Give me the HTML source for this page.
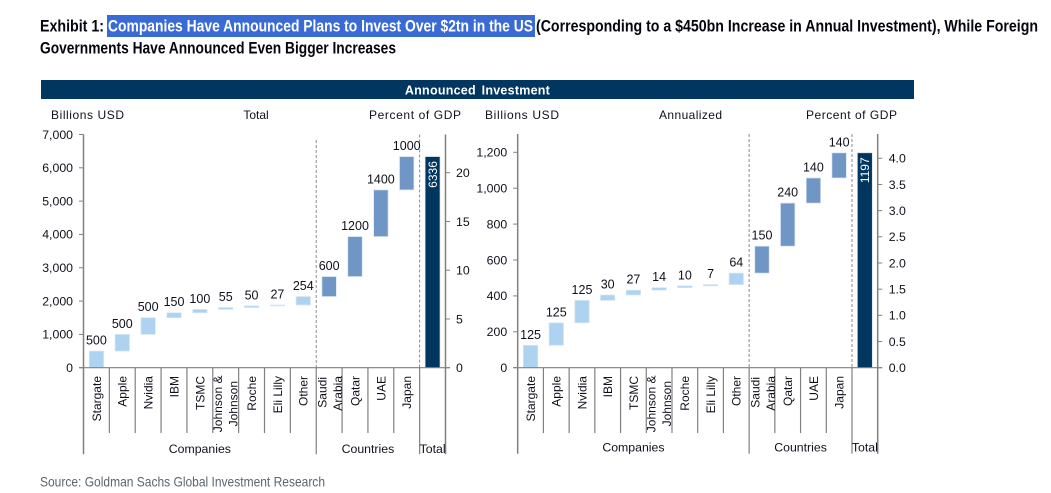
<!DOCTYPE html>
<html lang="en">
<head>
<meta charset="utf-8">
<title>Announced Investment</title>
<style>
html,body{margin:0;padding:0;background:#fff;width:1051px;height:493px;overflow:hidden}
svg{display:block;font-family:"Liberation Sans",Arial,sans-serif}
</style>
</head>
<body>
<svg id="root" xmlns="http://www.w3.org/2000/svg" width="1051" height="493" viewBox="0 0 1051 493">
  <g font-weight="700" font-size="17" fill="#05050f">
    <rect x="107" y="15" width="428" height="22" fill="#3A6BD4"/>
    <text x="40" y="31.5" textLength="64" lengthAdjust="spacingAndGlyphs">Exhibit 1:</text>
    <text x="108" y="31.5" fill="#ffffff" textLength="425" lengthAdjust="spacingAndGlyphs">Companies Have Announced Plans to Invest Over $2tn in the US</text>
    <text x="536" y="31.5" textLength="502" lengthAdjust="spacingAndGlyphs">(Corresponding to a $450bn Increase in Annual Investment), While Foreign</text>
    <text x="40" y="53.5" textLength="356" lengthAdjust="spacingAndGlyphs">Governments Have Announced Even Bigger Increases</text>
  </g>
  <g>
    <rect x="41" y="80" width="873" height="19" fill="#003660"/>
    <text x="477.5" y="94.5" text-anchor="middle" font-size="12.5" font-weight="700" fill="#ffffff" word-spacing="2" letter-spacing="0.25">Announced Investment</text>
  </g>
  <g font-size="12" fill="#10101c">
    <text x="51" y="119" textLength="73" lengthAdjust="spacing">Billions USD</text>
    <text x="256" y="119" text-anchor="middle">Total</text>
    <text x="369" y="119" textLength="92" lengthAdjust="spacing">Percent of GDP</text>
    <text x="485" y="119" textLength="74" lengthAdjust="spacing">Billions USD</text>
    <text x="659" y="119" textLength="63" lengthAdjust="spacing">Annualized</text>
    <text x="806" y="119" textLength="91" lengthAdjust="spacing">Percent of GDP</text>
  </g>
  <g id="left-chart"></g>
  <g id="right-chart"></g>
  <text x="40" y="486.5" font-size="14" fill="#5a6670" textLength="285" lengthAdjust="spacingAndGlyphs">Source: Goldman Sachs Global Investment Research</text>
</svg>
<script>
// ---- chart data ----
const categories = ["Stargate", "Apple", "Nvidia", "IBM", "TSMC", "Johnson &|Johnson", "Roche", "Eli Lilly", "Other", "Saudi|Arabia", "Qatar", "UAE", "Japan"];
const groupLabels = ["Companies", "Countries", "Total"];
const totalValues = [500, 500, 500, 150, 100, 55, 50, 27, 254, 600, 1200, 1400, 1000];
const totalSum = [6336];
const annualizedValues = [125, 125, 125, 30, 27, 14, 10, 7, 64, 150, 240, 140, 140];
const annualizedSum = [1197];
const totalTicks = [0, 1000, 2000, 3000, 4000, 5000, 6000, 7000];
const totalGdpTicks = [0, 5, 10, 15, 20];
const annualizedTicks = [0, 200, 400, 600, 800, 1000, 1200];
const annualizedGdpTicks = [0, 0.5, 1, 1.5, 2, 2.5, 3, 3.5, 4];

const NS = "http://www.w3.org/2000/svg";
const LIGHT = "#AED3F1", MID = "#7096C5", DARK = "#003660", AXIS = "#808080", INK = "#10101c";
const COMPANY_COUNT = 9;

function attrs(el, map) {
  for (const k in map) el.setAttribute(k, map[k]);
  return el;
}
function make(tag, parent, map, text) {
  const el = attrs(document.createElementNS(NS, tag), map);
  if (text !== undefined) el.textContent = text;
  parent.appendChild(el);
  return el;
}

function drawChart(root, o) {
  const colW = (o.x1 - o.x0) / 14;
  const y = v => o.y0 - v * o.k;
  const yGdp = v => o.y0 - v * o.kGdp;
  const colX = i => o.x0 + i * colW;

  // dashed group dividers
  [COMPANY_COUNT, 13].forEach((c, i) => {
    const d = make("line", root, {x1: colX(c), x2: colX(c), y1: i === 0 ? o.dashTop : o.top, y2: o.y0, stroke: "#8a8a8a", "stroke-width": 1, "stroke-dasharray": "3 2"});
    
    
  });

  // category separators
  for (let c = 1; c < 14; c++) {
    const isGroup = c === COMPANY_COUNT || c === 13;
    const s = make("line", root, {x1: colX(c), x2: colX(c), y1: o.y0, y2: isGroup ? o.groupBottom : 433, stroke: AXIS, "stroke-width": 1.2});
    
    
  }

  // waterfall bars
  let running = 0;
  o.values.forEach((v, i) => {
    const cx = colX(i) + colW / 2;
    const top = y(running + v);
    const h = v * o.k;
    const bar = make("rect", root, {x: cx - 7.2, y: top, width: 14.4, height: h, fill: i < COMPANY_COUNT ? LIGHT : MID, stroke: "#d6e6f6", "stroke-width": 0.7});
    
    
    const lab = make("text", root, {x: cx, y: top - 6.5, "text-anchor": "middle", "font-size": 12.5, fill: INK}, String(v));
    
    
    running += v;

    // rotated category label
    const parts = categories[i].split("|");
    parts.forEach((p, j) => {
      let bx, endY = 376;
      if (parts.length === 1) {
        bx = cx + 4.4;
      } else if (i === 5) {
        bx = colX(i) + (j === 0 ? 9 : 24.5);
        endY = j === 0 ? 375.5 : 381;
      } else {
        bx = colX(i) + (j === 0 ? 10.5 : 26);
        endY = j === 0 ? 377 : 376;
      }
      const t = make("text", root, {transform: "translate(" + bx + " " + endY + ") rotate(-90)", "text-anchor": "end", "font-size": 12, fill: INK}, p);
      
      
    });
  });

  // total bar
  const tx = colX(13) + colW / 2;
  const totalTop = y(o.sum[0]);
  const tb = make("rect", root, {x: tx - 7.4, y: totalTop, width: 14.8, height: o.sum[0] * o.k, fill: DARK, stroke: "#c8d8e8", "stroke-width": 0.6});
  
  
  const tl = make("text", root, {transform: "translate(" + (tx + 4.4) + " " + (totalTop + 4.5) + ") rotate(-90)", "text-anchor": "end", "font-size": 12, fill: "#ffffff"}, String(o.sum[0]));
  
  

  // axes
  const leftAxis = make("line", root, {x1: o.x0, x2: o.x0, y1: o.top, y2: o.groupBottom, stroke: AXIS, "stroke-width": 1.5});
  
  
  const rightAxis = make("line", root, {x1: o.x1, x2: o.x1, y1: o.top, y2: o.groupBottom, stroke: AXIS, "stroke-width": 1.5});
  
  
  const baseAxis = make("line", root, {x1: o.x0 - 4.5, x2: o.x1 + 4.5, y1: o.y0, y2: o.y0, stroke: AXIS, "stroke-width": 1.2});
  
  

  // primary ticks
  o.ticks.forEach(v => {
    const tk = make("line", root, {x1: o.x0 - 4.5, x2: o.x0, y1: y(v), y2: y(v), stroke: AXIS, "stroke-width": 1});
    
    
    const tt = make("text", root, {x: o.x0 - 10.5, y: y(v) + 4.3, "text-anchor": "end", "font-size": 12.3, fill: INK}, v.toLocaleString("en-US"));
    
    
  });

  // secondary ticks
  o.gdpTicks.forEach(v => {
    const tk = make("line", root, {x1: o.x1, x2: o.x1 + 4.5, y1: yGdp(v), y2: yGdp(v), stroke: AXIS, "stroke-width": 1});
    
    
    const tt = make("text", root, {x: o.x1 + o.gdpLabelGap, y: yGdp(v) + 4.3, "font-size": 12.3, fill: INK}, v.toFixed(o.gdpDigits));
    
    
  });

  // group labels
  const groupCenters = [(colX(0) + colX(9)) / 2, (colX(9) + colX(13)) / 2, colX(13) + colW / 2];
  groupLabels.forEach((g, i) => {
    const t = make("text", root, {x: groupCenters[i], y: o.groupBaseline, "text-anchor": "middle", "font-size": 12.3, fill: INK}, g);
    
    
  });
}

drawChart(document.getElementById("left-chart"), {
  values: totalValues, sum: totalSum, ticks: totalTicks, gdpTicks: totalGdpTicks, gdpDigits: 0,
  x0: 83.5, x1: 445.5, y0: 367.7, top: 134.5, dashTop: 140, k: 233.2 / 7000, kGdp: 9.75,
  groupBottom: 454.3, groupBaseline: 453, gdpLabelGap: 10.5
});
drawChart(document.getElementById("right-chart"), {
  values: annualizedValues, sum: annualizedSum, ticks: annualizedTicks, gdpTicks: annualizedGdpTicks, gdpDigits: 1,
  x0: 517.7, x1: 877.7, y0: 367.7, top: 134, dashTop: 134, k: 215.4 / 1200, kGdp: 52.35,
  groupBottom: 453.7, groupBaseline: 451.7, gdpLabelGap: 11
});
</script>
</body>
</html>
